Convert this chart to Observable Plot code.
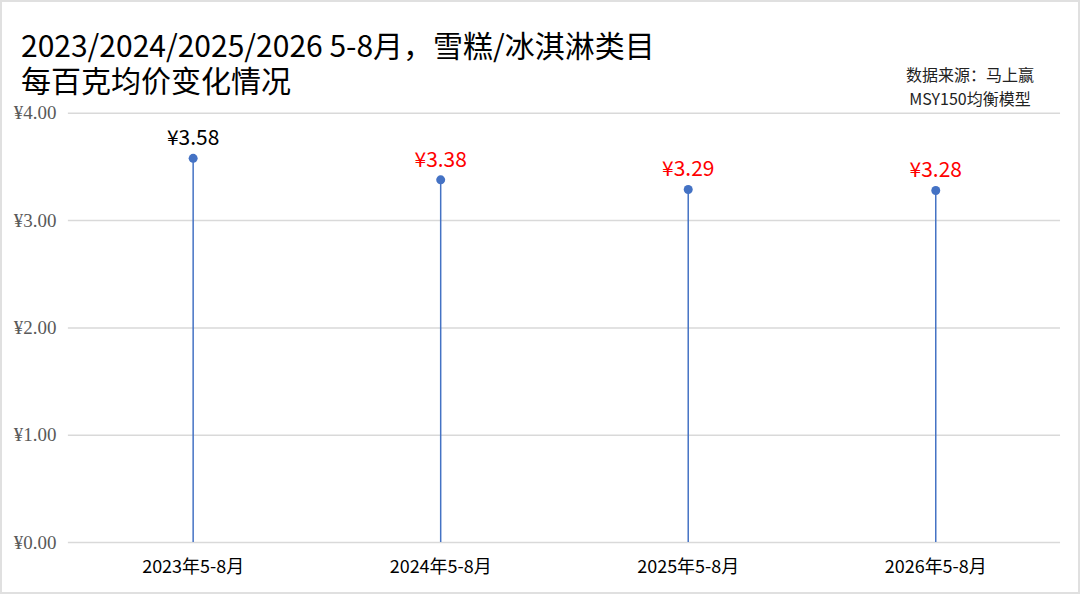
<!DOCTYPE html>
<html><head><meta charset="utf-8">
<script src="https://cdn.jsdelivr.net/npm/d3@7"></script>
<script src="https://cdn.jsdelivr.net/npm/@observablehq/plot@0.6"></script>
<style>
html,body{margin:0;padding:0;background:#fff;}
#wrap{position:relative;width:1080px;height:594px;overflow:hidden;box-sizing:border-box;border:2px solid #e0e0e0;}
#t1,#t2{position:absolute;left:19px;font-family:"Noto Sans CJK SC";font-size:30px;line-height:30px;color:#000;white-space:nowrap;}
#t1{top:27px;}
#t2{top:62px;}
#src{position:absolute;left:878px;width:180px;top:60px;text-align:center;font-family:"Noto Sans CJK SC";font-size:16px;line-height:24px;color:#222;}
#chart{position:absolute;left:-2px;top:-2px;}
</style></head>
<body><div id="wrap">
<div id="t1">2023/2024/2025/2026 5-8月，雪糕/冰淇淋类目</div>
<div id="t2">每百克均价变化情况</div>
<div id="src">数据来源：马上赢<br>MSY150均衡模型</div>
<div id="chart"></div>
</div>
<script>
const categories = ["2023年5-8月","2024年5-8月","2025年5-8月","2026年5-8月"];
const values = [3.58, 3.38, 3.29, 3.28];
const labelColors = ["#000000","#ff0000","#ff0000","#ff0000"];
const yTicks = [0,1,2,3,4];

const data = categories.map((c,i)=>({cat:c, v:values[i], color:labelColors[i]}));

const chart = Plot.plot({
  width:1080, height:594,
  marginTop:113, marginBottom:51, marginLeft:68, marginRight:18,
  x:{type:"band", domain:categories, padding:0, label:null},
  y:{domain:[0,4], label:null, axis:null},
  style:{background:"transparent"},
  marks:[
    Plot.gridY(yTicks,{stroke:"#d9d9d9", strokeOpacity:1, strokeWidth:1.5}),
    Plot.text(yTicks,{y:d=>d, frameAnchor:"left", dx:-12, textAnchor:"end", text:d=>"¥"+d.toFixed(2), fontFamily:"Liberation Serif", fontSize:19, fill:"#595959"}),
    Plot.axisX({tickSize:0, tickPadding:18, fontFamily:"Noto Sans CJK SC", fontSize:18, fill:"#000", label:null}),
    Plot.ruleX(data,{x:"cat", y1:0, y2:"v", stroke:"#4472c4", strokeWidth:1.5}),
    Plot.dot(data,{x:"cat", y:"v", r:4.5, fill:"#4472c4", stroke:"none"}),
    Plot.text(data,{x:"cat", y:"v", text:d=>"¥"+d.v.toFixed(2), fill:d=>d.color, dy:-20, fontSize:21, fontFamily:"Noto Sans CJK SC"})
  ]
});
document.getElementById("chart").appendChild(chart);
</script>
</body></html>
